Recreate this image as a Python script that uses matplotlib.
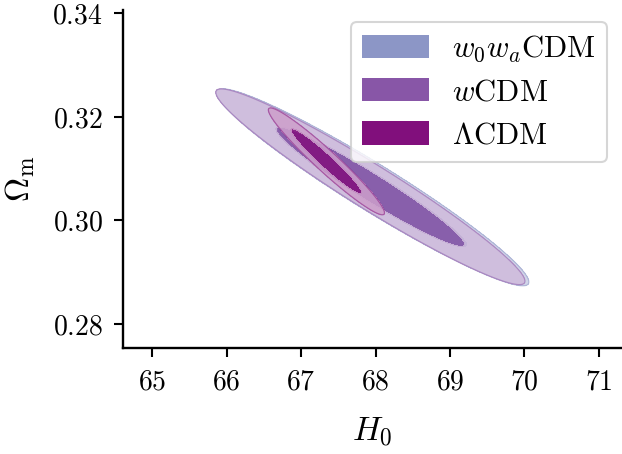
import numpy as np
import matplotlib
matplotlib.use('Agg')
import matplotlib.pyplot as plt
from matplotlib.patches import Patch
from matplotlib.ticker import FormatStrFormatter, FixedLocator
from matplotlib.colors import to_rgb

plt.rcParams['mathtext.fontset'] = 'cm'
plt.rcParams['font.family'] = 'serif'
plt.rcParams['font.serif'] = ['DejaVu Serif']

# ---- data (Gaussian posterior summaries) ----
models = [r'$w_0w_a\mathrm{CDM}$', r'$w\mathrm{CDM}$', r'$\Lambda\mathrm{CDM}$']
colors = ['#8c96c6', '#8856a7', '#810f7c']
mean_H0 = [67.96, 67.93, 67.34]
mean_Om = [0.3064, 0.3065, 0.3114]
sigma_H0 = [0.845, 0.836, 0.314]
sigma_Om = [0.00765, 0.00760, 0.00415]
rho = [-0.961, -0.964, -0.963]
chi2_levels = [2.30, 6.17]   # 68% and 95% 2D levels

xticks = [65, 66, 67, 68, 69, 70, 71]
yticks = [0.28, 0.30, 0.32, 0.34]
xlim = (64.61, 71.31)
ylim = (0.2754, 0.3406)

fig = plt.figure(figsize=(6.22, 4.54), dpi=100)
ax = fig.add_axes([0.198, 0.2335, 0.802, 0.7445])

x = np.linspace(64.0, 72.0, 800)
y = np.linspace(0.27, 0.345, 800)
X, Y = np.meshgrid(x, y)

for i in range(len(models)):
    dx = (X - mean_H0[i]) / sigma_H0[i]
    dy = (Y - mean_Om[i]) / sigma_Om[i]
    r = rho[i]
    chi2 = (dx**2 - 2 * r * dx * dy + dy**2) / (1 - r**2)
    base = np.array(to_rgb(colors[i]))
    pale = base * 0.4 + 0.6
    alpha = 1.0 if i == 0 else 0.85
    ax.contourf(X, Y, chi2, levels=[0, chi2_levels[0], chi2_levels[1]],
                colors=[tuple(base), tuple(pale)], alpha=alpha, zorder=2 + i)
    ax.contour(X, Y, chi2, levels=[chi2_levels[1]], colors=[colors[i]],
               linewidths=0.9, alpha=0.5, zorder=2 + i)

ax.set_xlim(*xlim)
ax.set_ylim(*ylim)
ax.xaxis.set_major_locator(FixedLocator(xticks))
ax.yaxis.set_major_locator(FixedLocator(yticks))
ax.xaxis.set_major_formatter(FormatStrFormatter('$%d$'))
ax.yaxis.set_major_formatter(FormatStrFormatter('$%.2f$'))

for s in ['top', 'right']:
    ax.spines[s].set_visible(False)
for s in ['left', 'bottom']:
    ax.spines[s].set_linewidth(1.7)
ax.tick_params(direction='out', length=6.5, width=1.5, labelsize=20, pad=8)

ax.set_xlabel(r'$H_0$', fontsize=24, labelpad=14)
ax.set_ylabel(r'$\Omega_\mathrm{m}$', fontsize=24, labelpad=11)

handles = [Patch(facecolor=c, edgecolor='none') for c in colors]
leg = ax.legend(handles, models, loc='upper right', bbox_to_anchor=(0.970, 0.9645),
                fontsize=22, handlelength=2.2, handleheight=0.8, handletextpad=0.75,
                labelspacing=0.4, borderpad=0.36, borderaxespad=0.0,
                fancybox=True, framealpha=0.8)
leg.get_frame().set_edgecolor('#cccccc')
leg.get_frame().set_linewidth(1.5)
leg.set_zorder(10)

fig.savefig('out.png', dpi=100)
